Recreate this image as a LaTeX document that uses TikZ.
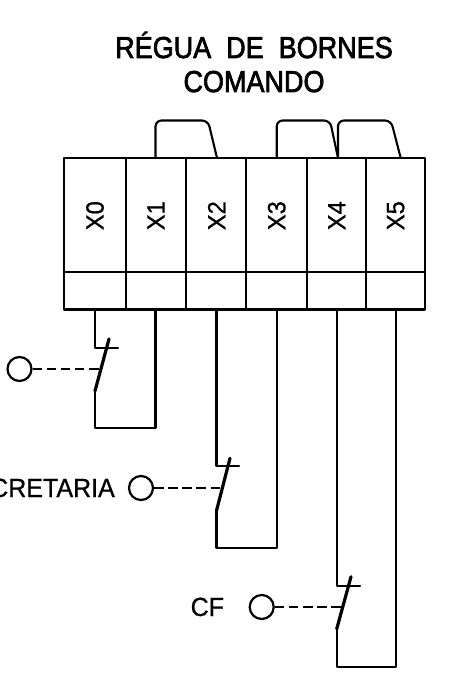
\documentclass[tikz,border=0pt]{standalone}
\usepackage{fontspec}
\setmainfont[FakeBold=0.8]{Liberation Sans}
\newfontfamily\titlefont[FakeBold=2.4]{Liberation Sans}
\tikzset{
  wire/.style={line width=2.1pt,line join=round,line cap=round},
  blade/.style={line width=3.2pt,line cap=round},
  ctl/.style={line width=1.8pt,dash pattern=on 9.5pt off 4.6pt},
  coil/.style={circle,draw,line width=2.2pt,minimum size=24pt,inner sep=0pt},
  celltext/.style={inner sep=0pt,rotate=90,font=\fontsize{25}{25}\selectfont,xscale=.95},
  lbl/.style={inner sep=0pt,font=\fontsize{25}{25}\selectfont,yscale=1.05},
  ttl/.style={inner sep=0pt,font=\titlefont\fontsize{27}{27}\selectfont,yscale=1.12}
}
\begin{document}
\begin{tikzpicture}[x=1pt,y=-1pt]
\useasboundingbox (0,0) rectangle (449,700);
% terminal block
\draw[wire] (64,158) rectangle (425,309.5);
\draw[wire] (64,272) -- (425,272);
\foreach \x in {125.7,186,246.3,306.7,365.7} \draw[wire] (\x,158) -- (\x,309.5);
% jumpers
\draw[wire,rounded corners=6pt] (155.5,158) -- (155.5,120.5) -- (208,120.5) -- (217,158);
\draw[wire,rounded corners=6pt] (276.7,158) -- (276.7,120.5) -- (330,120.5) -- (338,158);
\draw[wire,rounded corners=6pt] (338,158) -- (338,120.5) -- (391,120.5) -- (400.7,158);
% titles
\node[ttl,anchor=base] (t1) at (254,58) {RÉGUA\ \ DE\ \ BORNES};
\node[ttl,anchor=base] (t2) at (254,92) {COMANDO};
% terminal labels
\foreach \x/\t in {95/X0,156/X1,216.7/X2,276.7/X3,336.7/X4,395.7/X5}
  \node[celltext] (l\t) at (\x,215.7) {\t};
% contact 1
\coordinate (a1) at (95,309.5);
\coordinate (a2) at (95,347.7);
\coordinate (a3) at (118,347.7);
\coordinate (b1) at (109,339);
\coordinate (b2) at (95,391);
\coordinate (a4) at (95,428);
\coordinate (a5) at (155.5,428);
\coordinate (a6) at (155.5,309.5);
\coordinate (m1) at (100,369);
\draw[wire] (a1) -- (a2) -- (a3);
\draw[blade] (b1) -- (b2);
\draw[wire] (b2) -- (a4) -- (a5) -- (a6);
\node[coil] (c1) at (19.5,369) {};
\draw[ctl] (c1) -- (m1);
% contact 2
\coordinate (d1) at (216.5,309.5);
\coordinate (d2) at (216.5,466);
\coordinate (d3) at (239,466);
\coordinate (e1) at (230,458.3);
\coordinate (e2) at (216.5,510.7);
\coordinate (d4) at (216.5,548);
\coordinate (d5) at (276.7,548);
\coordinate (d6) at (276.7,309.5);
\coordinate (m2) at (221,488);
\draw[wire] (d1) -- (d2) -- (d3);
\draw[blade] (e1) -- (e2);
\draw[wire] (e2) -- (d4) -- (d5) -- (d6);
\node[coil] (c2) at (141,488) {};
\draw[ctl] (c2) -- (m2);
\node[lbl,anchor=base east] (n2) at (115,497) {CRETARIA};
% contact 3
\coordinate (f1) at (336.7,309.5);
\coordinate (f2) at (336.7,585.7);
\coordinate (f3) at (360,585.7);
\coordinate (g1) at (351,576.7);
\coordinate (g2) at (336.7,629);
\coordinate (f4) at (336.7,666.7);
\coordinate (f5) at (395.7,666.7);
\coordinate (f6) at (395.7,309.5);
\coordinate (m3) at (342,607);
\draw[wire] (f1) -- (f2) -- (f3);
\draw[blade] (g1) -- (g2);
\draw[wire] (g2) -- (f4) -- (f5) -- (f6);
\node[coil] (c3) at (261.7,607) {};
\draw[ctl] (c3) -- (m3);
\node[lbl,anchor=base west] (n3) at (190.5,616) {CF};
\end{tikzpicture}
\end{document}
